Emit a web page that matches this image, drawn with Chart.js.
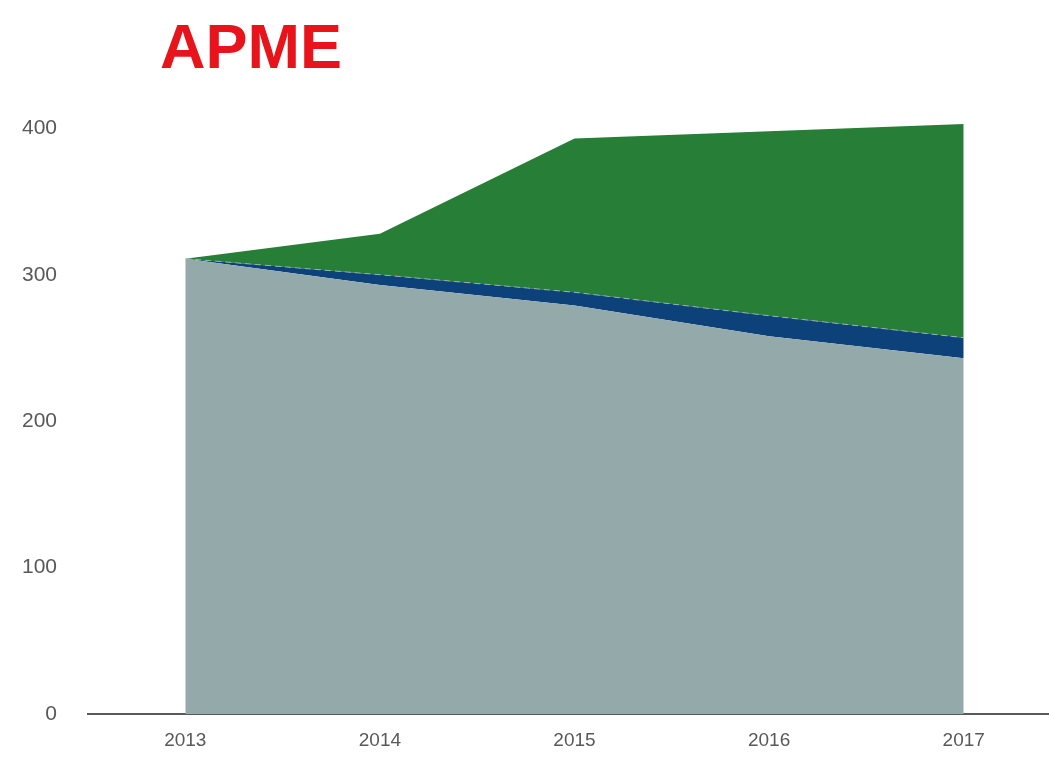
<!DOCTYPE html>
<html>
<head>
<meta charset="utf-8">
<script src="https://cdn.jsdelivr.net/npm/chart.js@4/dist/chart.umd.min.js"></script>
<style>
    html, body { margin: 0; padding: 0; background: #fff; overflow: hidden; }
    #wrap { position: relative; width: 1061px; height: 759px; }
    #title {
        position: absolute; left: 160px; top: 15px; margin: 0;
        font-family: 'Liberation Sans', Arial, sans-serif; font-weight: bold;
        font-size: 63px; line-height: 63px; color: #e8141b; z-index: 2;
    }
</style>
</head>
<body>
<div id="wrap">
    <div id="title">APME</div>
    <canvas id="area"></canvas>
</div>
<script>
        const years = ['2013', '2014', '2015', '2016', '2017'];
        const grayValues = [311, 293, 279, 258, 243];
        const blueValues = [0, 7, 9, 14, 14];
        const greenValues = [0, 28, 105, 126, 146];
        const yTicks = [0, 100, 200, 300, 400];

        const ctx = document.getElementById('area').getContext('2d');

        // axis runs a little past 400 so the 2017 top is not cut off
        const area = new Chart(ctx, {
            type: 'line',
            data: {
                labels: years,
                datasets: [
                    {
                        label: 'gray',
                        data: grayValues,
                        backgroundColor: '#93a9aa',
                        borderWidth: 0,
                        fill: 'origin',
                    },
                    {
                        label: 'blue',
                        data: blueValues,
                        backgroundColor: '#0c4279',
                        borderColor: 'rgba(170, 190, 195, 0.8)',
                        borderWidth: 1,
                        borderDash: [6, 4],
                        fill: '-1',
                    },
                    {
                        label: 'green',
                        data: greenValues,
                        backgroundColor: '#267e37',
                        borderWidth: 0,
                        fill: '-1',
                    }
                ]
            },
            options: {
                responsive: true,
                maintainAspectRatio: false,
                animation: false,
                elements: {
                    point: { radius: 0, hoverRadius: 0 },
                    line: { tension: 0 }
                },
                layout: {
                    padding: { top: 121, right: 0, bottom: 0, left: 0 }
                },
                plugins: {
                    legend: { display: false },
                    tooltip: { enabled: false },
                    title: { display: false }
                },
                scales: {
                    x: {
                        offset: true,
                        grid: { display: false, drawTicks: false },
                        border: { display: true, color: '#595959', width: 2 },
                        ticks: {
                            color: '#595959',
                            padding: 15,
                            font: { family: 'Liberation Sans', size: 19 }
                        },
                        afterFit: scale => { scale.height = 45; }
                    },
                    y: {
                        stacked: true,
                        min: 0,
                        max: 405,
                        afterBuildTicks: scale => {
                            scale.ticks = yTicks.map(v => ({ value: v }));
                        },
                        grid: { display: false, drawTicks: false },
                        border: { display: false },
                        ticks: {
                            color: '#595959',
                            padding: 31,
                            font: { family: 'Liberation Sans', size: 21 }
                        },
                        afterFit: scale => { scale.width = 88; }
                    }
                }
            }
        });
</script>
</body>
</html>
